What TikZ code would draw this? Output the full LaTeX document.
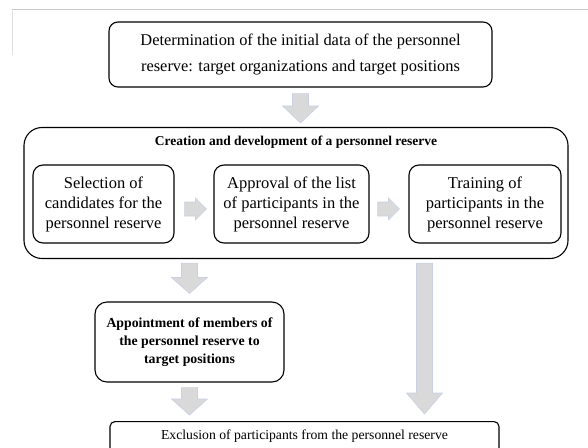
\documentclass[tikz,border=0pt]{standalone}
\usepackage{fontspec}
\setmainfont{Liberation Serif}
\usetikzlibrary{calc}
\definecolor{arrowfill}{RGB}{217,217,217}
\definecolor{arrowedge}{RGB}{200,208,226}
\definecolor{framegray}{RGB}{200,200,200}
\tikzset{
  box/.style={draw=black, line width=1.1pt, align=center, inner sep=2pt},
  blockarrow/.style={fill=arrowfill, draw=arrowedge, line width=0.6pt},
  vdown/.style={to path={let \p1=(\tikztostart), \p2=(\tikztotarget) in
    (\x1-8pt,\y1) -- (\x1+8pt,\y1) -- (\x1+8pt,\y2+#1) -- (\x1+18pt,\y2+#1) -- (\x1,\y2)
    -- (\x1-18pt,\y2+#1) -- (\x1-8pt,\y2+#1) -- cycle}},
  vdown/.default=16pt,
  hright/.style={to path={let \p1=(\tikztostart), \p2=(\tikztotarget) in
    (\x1,\y1-7pt) -- (\x2-11pt,\y1-7pt) -- (\x2-11pt,\y1-11pt) -- (\x2,\y1)
    -- (\x2-11pt,\y1+11pt) -- (\x2-11pt,\y1+7pt) -- (\x1,\y1+7pt) -- cycle}},
}
\begin{document}
\begin{tikzpicture}[x=1pt,y=-1pt]
\useasboundingbox (0,0) rectangle (588,447);
\clip (0,0) rectangle (588,447);
% faint frame marks
\draw[framegray, line width=1pt] (12,9) -- (588,9);
\draw[framegray!60, line width=0.8pt] (12,9) -- (12,55);

% nodes
\node[box, rounded corners=9pt, minimum width=383pt, minimum height=65pt,
      font=\fontsize{16.4}{26}\selectfont] (top) at (300.5,54.5)
  {Determination of the initial data of the personnel\\reserve: target organizations and target positions};

\node[box, rounded corners=18pt, minimum width=544pt, minimum height=131pt] (big) at (296,193) {};
\node[font=\fontsize{13.5}{16}\selectfont\bfseries, inner sep=0pt] (title) at (296,142)
  {Creation and development of a personnel reserve};

\node[box, rounded corners=10pt, minimum width=141pt, minimum height=78pt,
      font=\fontsize{16.5}{20}\selectfont] (b1) at (103.5,204)
  {Selection of\\candidates for the\\personnel reserve};
\node[box, rounded corners=10pt, minimum width=155pt, minimum height=78pt,
      font=\fontsize{16.5}{20}\selectfont] (b2) at (291.5,204)
  {Approval of the list\\of participants in the\\personnel reserve};
\node[box, rounded corners=10pt, minimum width=152pt, minimum height=78pt,
      font=\fontsize{16.5}{20}\selectfont] (b3) at (485,204)
  {Training of\\participants in the\\personnel reserve};

\node[box, rounded corners=12pt, minimum width=189pt, minimum height=80pt,
      font=\fontsize{13.8}{18}\selectfont\bfseries] (appt) at (189.5,342)
  {Appointment of members of\\the personnel reserve to\\target positions};

\node[box, rounded corners=5pt, anchor=north, minimum width=389pt, inner ysep=8.4pt,
      text height=9.6pt, text depth=20pt, font=\fontsize{13.7}{16}\selectfont] (bot) at (304.5,421)
  {Exclusion of participants from the personnel reserve};

% block arrows (connectors)
\coordinate (a1s) at ($(top.south)+(0,6)$);
\coordinate (a1e) at ($(big.north -| top.south)+(0,-4)$);
\path[blockarrow] (a1s) to[vdown=17pt] (a1e);

\coordinate (h1s) at ($(b1.east)+(10,5)$);
\coordinate (h1e) at ($(b2.west)+(-7,5)$);
\path[blockarrow] (h1s) to[hright] (h1e);
\coordinate (h2s) at ($(b2.east)+(8,5)$);
\coordinate (h2e) at ($(b3.west)+(-9,5)$);
\path[blockarrow] (h2s) to[hright] (h2e);

\coordinate (l1s) at ($(big.south -| appt.north)+(0,4)$);
\coordinate (l1e) at ($(appt.north)+(0,-8)$);
\path[blockarrow] (l1s) to[vdown] (l1e);

\coordinate (l2s) at ($(appt.south)+(0,5)$);
\coordinate (l2e) at ($(bot.north -| appt.south)+(0,-6)$);
\path[blockarrow] (l2s) to[vdown] (l2e);

\coordinate (r1s) at ($(big.south)+(128.5,4)$);
\coordinate (r1e) at ($(bot.north)+(120,-7)$);
\path[blockarrow] (r1s) to[vdown=21pt] (r1e);
\end{tikzpicture}
\end{document}
